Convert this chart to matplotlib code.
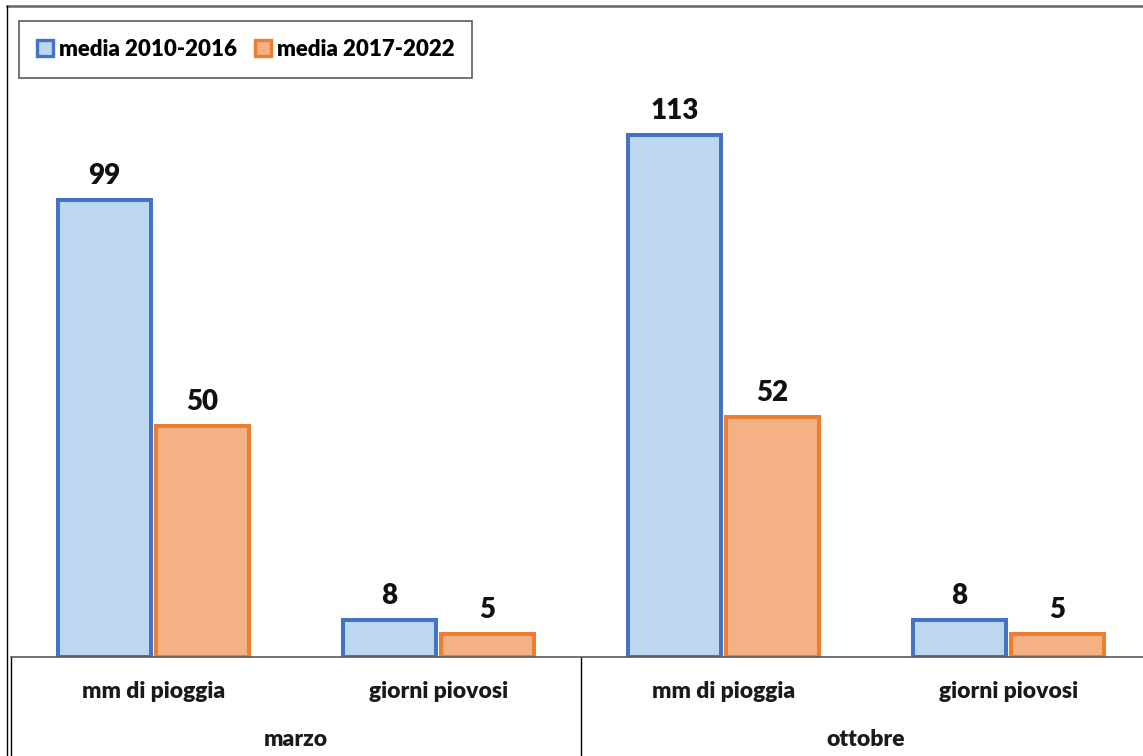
import numpy as np
import matplotlib
matplotlib.use("Agg")
import matplotlib.pyplot as plt
from matplotlib.lines import Line2D
from matplotlib.patches import Patch

plt.rcParams['font.family'] = ['Lato', 'DejaVu Sans']

months = ['marzo', 'ottobre']
measures = ['mm di pioggia', 'giorni piovosi']
series = ['media 2010-2016', 'media 2017-2022']
avg_2010_2016 = [99, 8, 113, 8]
avg_2017_2022 = [50, 5, 52, 5]

edge_cols = ['#4472C4', '#ED7D31']
fill_cols = ['#BDD7EE', '#F4B183']
txt_w = 'heavy'

W, H = 1143, 756
fig = plt.figure(figsize=(W / 100, H / 100), dpi=100)
fig.patch.set_facecolor('white')

# plot area runs a bit past the right edge of the figure
ax_h = 651
ax = fig.add_axes([11 / W, 99 / H, 1140 / W, ax_h / H])
ax.set_xlim(-0.5, 3.5)
ax.set_ylim(0, 141)

x = np.arange(len(avg_2010_2016))
bw = 0.323
off = 0.172
for vals, dx, ec, fc in [(avg_2010_2016, -off, edge_cols[0], fill_cols[0]),
                         (avg_2017_2022, off, edge_cols[1], fill_cols[1])]:
    ax.bar(x + dx, vals, bw, color=fc, edgecolor=ec, linewidth=2.9, zorder=3)
    for xi, v in zip(x, vals):
        ax.annotate(str(v), (xi + dx, v), xytext=(0, 8), textcoords='offset points',
                    ha='center', va='bottom', fontsize=20, fontweight=txt_w,
                    color='#111111')

for s in ['top', 'right', 'left']:
    ax.spines[s].set_visible(False)
ax.spines['bottom'].set_color('#595959')
ax.spines['bottom'].set_linewidth(1.2)
ax.spines['bottom'].set_zorder(4)
ax.set_yticks([])
ax.set_xticks([])

# two-level category axis
trans = ax.get_xaxis_transform()
for xi in x:
    ax.text(xi, -35 / ax_h, measures[xi % 2], transform=trans, ha='center',
            va='center', fontsize=16.5, fontweight=txt_w, color='#1a1a1a')
for mi, m in enumerate(months):
    ax.text(2 * mi + 0.5, -82 / ax_h, m, transform=trans, ha='center', va='center',
            fontsize=16.5, fontweight=txt_w, color='#1a1a1a')
for xb in [-0.5, 1.5]:
    ax.plot([xb, xb], [0, -0.2], transform=trans, color='black', lw=1.0,
            clip_on=False)

# chart area border
fig.add_artist(Line2D([7 / W, 1], [1 - 6 / H, 1 - 6 / H], color='#666666', lw=1.8))
fig.add_artist(Line2D([7 / W, 7 / W], [0, 1 - 6 / H], color='black', lw=1.0))

handles = [Patch(facecolor=fc, edgecolor=ec, linewidth=2.4)
           for fc, ec in zip(fill_cols, edge_cols)]
leg = fig.legend(handles, series, loc='upper left',
                 bbox_to_anchor=(19 / W, 1 - 21 / H), ncol=2, frameon=True,
                 fancybox=False, edgecolor='#333333', borderpad=0.8,
                 handlelength=0.75, handleheight=0.75, handletextpad=0.25,
                 columnspacing=0.8, borderaxespad=0,
                 prop={'size': 16, 'weight': txt_w})
leg.get_frame().set_linewidth(1.2)

fig.savefig('out.png', dpi=100)
